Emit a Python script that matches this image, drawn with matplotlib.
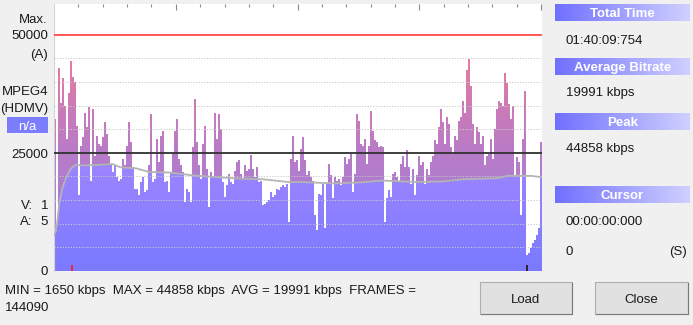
import numpy as np
import matplotlib
matplotlib.use('Agg')
import matplotlib.pyplot as plt
from matplotlib.patches import Rectangle

# ---------------- data ----------------
total_seconds = 6009.754
bitrate_k = [
    # segment 1
    32.1, 10, 43, 35.6, 40.9, 35, 28, 37.7, 44.4, 41, 40, 30.7, 16, 26.5, 28.3, 33.5, 30.4, 34.6, 19, 34.2,
    24.4, 28.6, 26.9, 26.5, 28.3, 31.4, 29, 24.4, 22.3, 20.9, 22.3, 19.8, 19.1, 19.5, 23.7, 22.3, 26.5, 31.4,
    27.2, 22, 17.4,
    # segment 2
    17.4, 16, 18.8, 19.8, 16.7, 17, 22.3, 33.2, 18.8, 19.5, 27.9, 23, 28.6, 29.7, 18.8, 19.1, 16.7, 20.9, 25,
    29.7, 32.1, 23.7, 22.3, 20.9, 14.6, 17.4, 16.7, 14.6, 26.2, 36.3, 27.2, 22.3, 19.5, 26.9, 30.7, 21.6, 13.5,
    20.9, 19.8, 33.5, 27.9,
    # segment 3
    33.2, 30, 18.8, 15.6, 18.1, 20.5, 18.8, 18.4, 21.2, 23, 23.4, 20.5, 19.5, 22.3, 21.2, 21.6, 24.5, 21.6,
    19.8, 22, 18.8, 19.1, 13.9, 14.2, 14.6, 14.9, 16.7, 15.6, 16, 17.4, 17, 17.7, 18.1, 17.7, 18.4, 10.4, 23.7,
    28.6, 23, 23.4, 21.2,
    # segment 4
    25.8, 28.3, 23.4, 20.2, 21.2, 19.8, 19.1, 11.8, 8.6, 16.3, 16, 18.4, 9, 18.4, 22.7, 20.2, 15.3, 19.8, 19.1,
    19.5, 18.1, 19.8, 24.1, 22.7, 23.7, 24.8, 16.7, 20.5, 33.2, 31.8, 26.9, 26.5, 27.9, 22.7, 26.5, 33.9, 29.7,
    27.6, 27.2, 26.2, 26.5,
    # segment 5
    26.2, 10.4, 15.3, 17, 15.6, 20.5, 20.9, 19.8, 18.8, 22.7, 24.4, 21.9, 25.5, 21.9, 18.4, 21.6, 16, 20.2,
    24.4, 22.3, 23, 18.4, 21.6, 20.2, 23, 24.4, 27.6, 26.9, 30.4, 34.2, 31.4, 26.9, 32.5, 31.1, 26.2, 24.8,
    28.6, 27.6, 31.8, 32.5, 36,
    # segment 6
    33.5, 42.6, 44.86, 39.1, 31.1, 26.9, 30.4, 29.3, 26.9, 28.6, 22.3, 24.4, 24.8, 27.9, 23.7, 30, 34.2, 36,
    35.6, 34.9, 41.9, 39.8, 35.3, 32.1, 34.9, 20.2, 24.1, 23, 11.8, 27.9, 38.1, 3.4, 3.7, 4.8, 5.8, 6.5, 7.6,
    9, 27.2,
]
avg_t = [0, 21, 41, 62, 102, 144, 206, 267, 369, 533, 717, 820, 1010, 1174, 1420, 1708, 2020, 2307, 2553,
         2718, 2882, 3030, 3440, 3768, 4039, 4450, 4782, 5053, 5463, 5586, 5874, 6010]
avg_k = [7.6, 8.3, 10.4, 13.9, 17.4, 19.5, 21.6, 22.4, 22.3, 22.4, 22.6, 21.9, 21.7, 20.9, 20.8, 20.2, 19.8,
         19.5, 19.4, 19.1, 18.8, 18.8, 18.5, 18.7, 19.1, 18.8, 18.9, 19.4, 19.6, 20.1, 20.1, 19.8]
marker_times = [225, 5831]
marker_colors = ['#ff2020', '#202020']
y_max_line = 50000
y_ref_line = 25000
grid_levels = [5000, 10000, 15000, 20000, 30000, 35000, 40000, 45000]

left_labels = [("Max.", 18), ("50000", 34), ("(A)", 53), ("MPEG4", 90), ("(HDMV)", 107),
               ("25000", 153), ("0", 270)]
panel_headers = [("Total Time", 4.3, 20.7), ("Average Bitrate", 58.3, 75), ("Peak", 113.3, 130),
                 ("Cursor", 186, 202.7)]
panel_values = [("01:40:09:754", 39), ("19991 kbps", 91), ("44858 kbps", 147), ("00:00:00:000", 220),
                ("0", 250)]
stats_line1 = "MIN = 1650 kbps  MAX = 44858 kbps  AVG = 19991 kbps  FRAMES ="
stats_line2 = "144090"

# ---------------- figure ----------------
FONT = 'Liberation Sans'
FS = 9.5
DY = 1.6  # text baseline compensation (px)
W, H = 693, 325
fig = plt.figure(figsize=(W / 100, H / 100), dpi=100)
fig.patch.set_facecolor('#f0f0f0')

ov = fig.add_axes([0, 0, 1, 1], zorder=0)
ov.set_xlim(0, W)
ov.set_ylim(H, 0)
ov.axis('off')
ov.patch.set_alpha(0)

y0px, y1px = 4.0, 270.7
x0px, x1px = 54.0, 542.0
ymax = (y1px - y0px) / 4.72 * 1000
ax = fig.add_axes([x0px / W, 1 - y1px / H, (x1px - x0px) / W, (y1px - y0px) / H], zorder=2)
ax.set_facecolor('white')

vals = np.array(bitrate_k) * 1000.0
N = len(vals)
edges = np.linspace(0, total_seconds, N + 1)
centers = 0.5 * (edges[:-1] + edges[1:])
avg_at = np.interp(centers, avg_t, np.array(avg_k) * 1000.0)
lower = np.minimum(vals, avg_at)
upper = np.maximum(vals, avg_at)


def ext(a):
    return np.append(a, a[-1])


def grad_img(stops_v, stops_c, n=400):
    yy = np.linspace(0, ymax, n)
    arr = np.zeros((n, 1, 3))
    for k in range(3):
        arr[:, 0, k] = np.interp(yy, stops_v, [c[k] for c in stops_c]) / 255.0
    return arr


blue = grad_img([0, 25000], [(122, 122, 255), (160, 134, 255)])
pink = grad_img([15000, 25000, 35000, 45000, 56000],
                [(172, 124, 210), (184, 124, 200), (204, 122, 182), (234, 122, 156), (250, 112, 140)])

pc_low = ax.fill_between(edges, 0, ext(lower), step='post', lw=0)
pc_up = ax.fill_between(edges, ext(avg_at), ext(upper), step='post', lw=0)
p_low = pc_low.get_paths()[0]
p_up = pc_up.get_paths()[0]
pc_low.remove()
pc_up.remove()

im1 = ax.imshow(blue, extent=[0, total_seconds, 0, ymax], origin='lower', aspect='auto',
                interpolation='bilinear', zorder=1)
im1.set_clip_path(p_low, ax.transData)
im2 = ax.imshow(pink, extent=[0, total_seconds, 0, ymax], origin='lower', aspect='auto',
                interpolation='bilinear', zorder=1)
im2.set_clip_path(p_up, ax.transData)

for g in grid_levels:
    ax.axhline(g, color='#c8c8c8', lw=0.7, ls=(0, (1.2, 1.6)), zorder=3)
ax.axhline(y_max_line, color='#ff3b3b', lw=1.2, zorder=4)
ax.axhline(y_ref_line, color='#303030', lw=1.3, zorder=4)
ax.plot(avg_t, np.array(avg_k) * 1000, color='#b4b4b4', lw=1.3, zorder=5)
for t, c in zip(marker_times, marker_colors):
    ax.vlines(t, 0, 1300, color=c, lw=1.3, zorder=6)

ax.set_xlim(0, total_seconds)
ax.set_ylim(0, ymax)
ax.set_xticks(np.arange(1500, total_seconds, 1500))
ax.set_xticks(np.arange(300, total_seconds, 300), minor=True)
ax.tick_params(axis='x', which='both', top=True, bottom=False, direction='in',
               labeltop=False, labelbottom=False, color='#8a8a8a', width=0.8)
ax.tick_params(axis='x', which='major', length=4.2)
ax.tick_params(axis='x', which='minor', length=2.2)
ax.set_yticks([])
for s in ['top', 'right', 'bottom']:
    ax.spines[s].set_visible(False)
ax.spines['left'].set_color('#d4d4d4')
ax.spines['left'].set_linewidth(0.8)

# ---------------- left labels ----------------
tk = dict(family=FONT, fontsize=FS, color='#1a1a1a')
for s, y in left_labels:
    ov.text(48, y + DY, s, ha='right', va='center', **tk)
ov.add_patch(Rectangle((7, 117), 41, 16, facecolor='#7c7cff', edgecolor='none'))
ov.text(27.5, 125 + DY, "n/a", ha='center', va='center', family=FONT, fontsize=FS, color='white')
ov.text(21, 204 + DY, "V:", ha='left', va='center', **tk)
ov.text(48, 204 + DY, "1", ha='right', va='center', **tk)
ov.text(20, 220.5 + DY, "A:", ha='left', va='center', **tk)
ov.text(48, 220.5 + DY, "5", ha='right', va='center', **tk)

# ---------------- bottom stats ----------------
ov.text(5, 289 + DY, stats_line1, ha='left', va='center', **tk)
ov.text(5, 306 + DY, stats_line2, ha='left', va='center', **tk)

# ---------------- right panel ----------------
hgrad = np.zeros((1, 200, 3))
for k, (a, b) in enumerate(zip((112, 112, 255), (208, 208, 255))):
    hgrad[0, :, k] = np.linspace(a, b, 200) / 255.0
for s, ya, yb in panel_headers:
    ov.imshow(hgrad, extent=[555, 690, yb, ya], aspect='auto', interpolation='bilinear', zorder=1)
    ov.text(622.5, (ya + yb) / 2 + DY, s, ha='center', va='center', family=FONT, fontsize=FS,
            fontweight='bold', color='white', zorder=2)
for s, y in panel_values:
    ov.text(566, y + DY, s, ha='left', va='center', **tk)
ov.text(687, 250 + DY, "(S)", ha='right', va='center', **tk)

# ---------------- buttons ----------------
for label, xa, xb in [("Load", 480, 572), ("Close", 595, 688)]:
    ov.add_patch(Rectangle((xa, 282), xb - xa, 32, facecolor='#e1e1e1', edgecolor='#adadad', lw=0.8))
    ov.plot([xa + 0.5, xb - 0.5], [313.5, 313.5], color='#7a7a7a', lw=0.8)
    ov.plot([xb - 0.5, xb - 0.5], [282.5, 313.5], color='#7a7a7a', lw=0.8)
    ov.text((xa + xb) / 2, 298 + DY, label, ha='center', va='center', **tk)

ov.set_xlim(0, W)
ov.set_ylim(H, 0)

fig.savefig('out.png', dpi=100, facecolor=fig.get_facecolor())
